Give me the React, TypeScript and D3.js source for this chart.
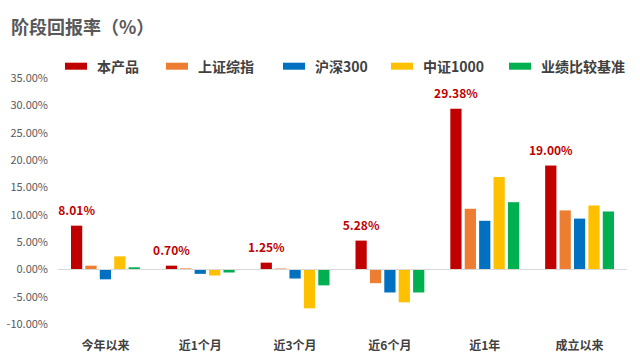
import React from "react";
import * as d3 from "d3";

const categories = ["今年以来", "近1个月", "近3个月", "近6个月", "近1年", "成立以来"];
const seriesNames = ["本产品", "上证综指", "沪深300", "中证1000", "业绩比较基准"];
const product = [8.01, 0.7, 1.25, 5.28, 29.38, 19.0];
const shIndex = [0.7, 0.2, 0.18, -2.5, 11.1, 10.8];
const hs300 = [-1.8, -0.8, -1.65, -4.2, 8.9, 9.3];
const zz1000 = [2.4, -1.1, -7.1, -6.0, 16.9, 11.7];
const benchmark = [0.4, -0.55, -2.9, -4.2, 12.3, 10.6];
const yTicks = [35, 30, 25, 20, 15, 10, 5, 0, -5, -10];
const colors = ["#C00000", "#ED7D31", "#0070C0", "#FFC000", "#00B050"];

const W = 640;
const H = 361;
const font = "'Noto Sans CJK SC', 'Microsoft YaHei', sans-serif";

export default function App() {
  const series = [product, shIndex, hs300, zz1000, benchmark];
  const y = d3.scaleLinear().domain([-10, 35]).range([324.2, 78]);
  const x0 = d3.scaleBand<string>().domain(categories).range([58, 627]);
  const bw = x0.bandwidth();
  const x1 = d3
    .scaleBand<string>()
    .domain(seriesNames)
    .range([bw * 0.137, bw * 0.863])
    .paddingInner(0.22);
  const legendX = [65, 166, 283, 391, 509];

  return (
    <svg width={W} height={H} style={{ position: "absolute", left: 0, top: 0 }} fontFamily={font}>
      <rect width={W} height={H} fill="#fff" />
      <text x={11} y={34} fontSize={18} fontWeight="bold" fill="#595959">
        阶段回报率（%）
      </text>
      {seriesNames.map((s, i) => (
        <g key={s}>
          <rect x={legendX[i]} y={62.7} width={22} height={7} fill={colors[i]} />
          <text x={legendX[i] + 32} y={72} fontSize={14} fontWeight="bold" fill="#404040">
            {s}
          </text>
        </g>
      ))}
      {yTicks.map((t) => (
        <text
          key={t}
          x={48}
          y={y(t)}
          dy="0.35em"
          textAnchor="end"
          fontSize={11}
          fill="#595959"
        >
          {t.toFixed(2)}%
        </text>
      ))}
      {categories.map((c, ci) => (
        <g key={c} transform={`translate(${x0(c)},0)`}>
          {series.map((vals, si) => {
            const v = vals[ci];
            const top = y(Math.max(0, v));
            const bot = y(Math.min(0, v));
            return (
              <rect
                key={si}
                x={x1(seriesNames[si])}
                y={top}
                width={x1.bandwidth()}
                height={bot - top}
                fill={colors[si]}
              />
            );
          })}
          <text
            x={(x1(seriesNames[0]) as number) + x1.bandwidth() / 2}
            y={y(product[ci]) - 11}
            textAnchor="middle"
            fontSize={12}
            fontWeight="bold"
            fill="#C00000"
          >
            {product[ci].toFixed(2)}%
          </text>
        </g>
      ))}
      <line x1={58} x2={627} y1={y(0)} y2={y(0)} stroke="#D9D9D9" strokeWidth={1} />
      {categories.map((c) => (
        <text
          key={c}
          x={(x0(c) as number) + bw / 2}
          y={350}
          textAnchor="middle"
          fontSize={12}
          fontWeight="bold"
          fill="#404040"
        >
          {c}
        </text>
      ))}
    </svg>
  );
}
